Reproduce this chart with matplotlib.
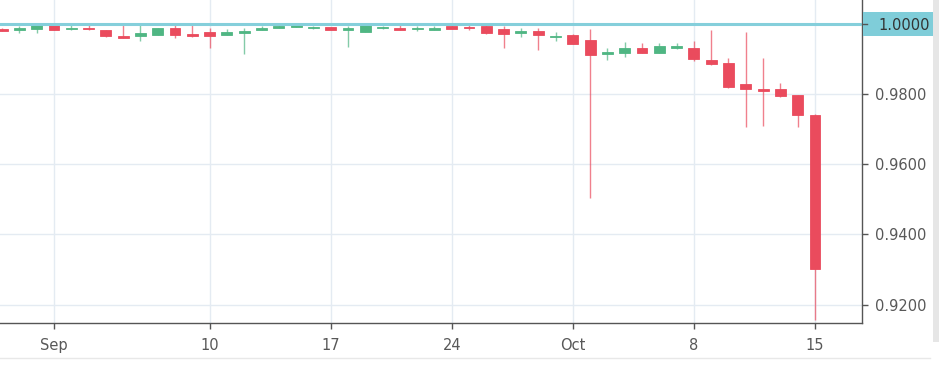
import matplotlib
matplotlib.use("Agg")
import matplotlib.pyplot as plt
import matplotlib.dates as mdates
from matplotlib.ticker import FixedLocator, FuncFormatter
from matplotlib.patches import Rectangle

# daily candles, 29 Aug -> 15 Oct
dates = [
    "2018-08-29", "2018-08-30", "2018-08-31", "2018-09-01", "2018-09-02", "2018-09-03",
    "2018-09-04", "2018-09-05", "2018-09-06", "2018-09-07", "2018-09-08", "2018-09-09",
    "2018-09-10", "2018-09-11", "2018-09-12", "2018-09-13", "2018-09-14", "2018-09-15",
    "2018-09-16", "2018-09-17", "2018-09-18", "2018-09-19", "2018-09-20", "2018-09-21",
    "2018-09-22", "2018-09-23", "2018-09-24", "2018-09-25", "2018-09-26", "2018-09-27",
    "2018-09-28", "2018-09-29", "2018-09-30", "2018-10-01", "2018-10-02", "2018-10-03",
    "2018-10-04", "2018-10-05", "2018-10-06", "2018-10-07", "2018-10-08", "2018-10-09",
    "2018-10-10", "2018-10-11", "2018-10-12", "2018-10-13", "2018-10-14", "2018-10-15",
]
opens = [
    0.9985, 0.9982, 0.9985, 0.9995, 0.9983, 0.9984,
    0.9981, 0.9965, 0.9964, 0.9968, 0.9988, 0.9970,
    0.9976, 0.9968, 0.9972, 0.9982, 0.9986, 0.9991,
    0.9987, 0.9989, 0.9982, 0.9977, 0.9987, 0.9988,
    0.9983, 0.9982, 0.9994, 0.9989, 0.9994, 0.9983,
    0.9974, 0.9980, 0.9961, 0.9967, 0.9953, 0.9914,
    0.9915, 0.9930, 0.9915, 0.9929, 0.9931, 0.9896,
    0.9887, 0.9827, 0.9813, 0.9813, 0.9796, 0.9740,
]
highs = [
    0.9987, 0.9994, 0.9999, 0.9998, 0.9997, 0.9996,
    0.9981, 0.9999, 0.9996, 0.9987, 0.9998, 0.9999,
    0.9987, 0.9984, 0.9986, 0.9994, 0.9997, 0.9999,
    0.9994, 0.9989, 0.9992, 0.9995, 0.9993, 0.9996,
    0.9993, 0.9994, 0.9998, 0.9998, 0.9997, 0.9993,
    0.9986, 0.9986, 0.9977, 0.9970, 0.9984, 0.9929,
    0.9948, 0.9944, 0.9944, 0.9944, 0.9951, 0.9982,
    0.9901, 0.9975, 0.9901, 0.9832, 0.9796, 0.9743,
]
lows = [
    0.9978, 0.9972, 0.9972, 0.9981, 0.9981, 0.9982,
    0.9963, 0.9960, 0.9950, 0.9968, 0.9960, 0.9962,
    0.9930, 0.9968, 0.9913, 0.9982, 0.9986, 0.9990,
    0.9984, 0.9981, 0.9932, 0.9977, 0.9984, 0.9981,
    0.9980, 0.9981, 0.9985, 0.9982, 0.9971, 0.9929,
    0.9962, 0.9925, 0.9950, 0.9942, 0.9503, 0.9896,
    0.9904, 0.9915, 0.9915, 0.9927, 0.9894, 0.9882,
    0.9817, 0.9705, 0.9708, 0.9790, 0.9705, 0.9156,
]
closes = [
    0.9979, 0.9987, 0.9999, 0.9981, 0.9984, 0.9983,
    0.9964, 0.9960, 0.9974, 0.9987, 0.9968, 0.9964,
    0.9964, 0.9976, 0.9980, 0.9988, 0.9994, 0.9997,
    0.9988, 0.9982, 0.9988, 0.9995, 0.9988, 0.9982,
    0.9984, 0.9988, 0.9985, 0.9987, 0.9972, 0.9971,
    0.9976, 0.9967, 0.9963, 0.9942, 0.9911, 0.9916,
    0.9931, 0.9915, 0.9936, 0.9936, 0.9898, 0.9884,
    0.9818, 0.9815, 0.9809, 0.9794, 0.9740, 0.9302,
]
tick_dates = ["2018-09-01", "2018-09-10", "2018-09-17", "2018-09-24",
              "2018-10-01", "2018-10-08", "2018-10-15"]
y_ticks = [0.92, 0.94, 0.96, 0.98]
ref_level = 1.0

UP = "#4fb683"
DOWN = "#ea4b5d"
GRID = "#e4ebf2"
TXT = "#585858"

W, H = 939, 372
x = mdates.datestr2num(dates)

fig = plt.figure(figsize=(W / 100, H / 100), dpi=100)
ax = fig.add_axes([0.0, 1 - 323 / H, 862 / W, 323 / H])

ax.set_xlim(mdates.datestr2num("2018-08-29") - 0.12, mdates.datestr2num("2018-10-17") + 0.72)
ax.set_ylim(0.91479, 1.00669)

for xi, o, h, l, c in zip(x, opens, highs, lows, closes):
    col = UP if c >= o else DOWN
    ax.vlines(xi, l, h, color=col, lw=1.0, alpha=0.7, zorder=3)
    body = max(abs(c - o), 0.0004)
    ax.bar(xi, body, bottom=min(o, c), width=0.63, color=col, edgecolor=col, lw=0.6, zorder=4)

ax.axhline(ref_level, color="#85cfdb", lw=2.2, zorder=5)

ax.xaxis.set_major_locator(FixedLocator(mdates.datestr2num(tick_dates)))
ax.xaxis.set_major_formatter(FuncFormatter(
    lambda v, p: mdates.num2date(v).strftime("%b") if mdates.num2date(v).day == 1
    else str(mdates.num2date(v).day)))
ax.yaxis.set_major_locator(FixedLocator(y_ticks))
ax.yaxis.set_major_formatter(FuncFormatter(lambda v, p: f"{v:.4f}"))
ax.yaxis.tick_right()

ax.grid(True, color=GRID, lw=1.0, zorder=0)
ax.set_axisbelow(True)
ax.tick_params(axis="both", colors="#555555", labelcolor=TXT, labelsize=10.5, length=4, width=1)
ax.tick_params(axis="x", pad=7)
ax.tick_params(axis="y", pad=5)
for s in ("top", "left"):
    ax.spines[s].set_visible(False)
for s in ("right", "bottom"):
    ax.spines[s].set_color("#555555")
    ax.spines[s].set_linewidth(1.0)

# price label for the 1.0000 line, sitting against the price scale
y_ref = ax.transData.transform((0, ref_level))[1] / fig.dpi / (H / 100)
fig.patches.append(Rectangle((863 / W, y_ref - 12 / H), 70 / W, 24 / H,
                             transform=fig.transFigure, fc="#7fcdd9", ec="none", zorder=6))
fig.lines.append(plt.Line2D([862 / W, 867 / W], [y_ref, y_ref], transform=fig.transFigure,
                            color="#555555", lw=1, zorder=7))
fig.text(878 / W, y_ref, f"{ref_level:.4f}", ha="left", va="center_baseline",
         fontsize=10.5, color="#333333", zorder=7)

# bits of surrounding UI
fig.patches.append(Rectangle((933 / W, 30 / H), 6 / W, 342 / H,
                             transform=fig.transFigure, fc="#e6e6e6", ec="none"))
fig.lines.append(plt.Line2D([0, 930 / W], [1 - 358 / H] * 2, transform=fig.transFigure,
                            color="#e8e8e8", lw=1))

fig.savefig("out.png", dpi=100)
